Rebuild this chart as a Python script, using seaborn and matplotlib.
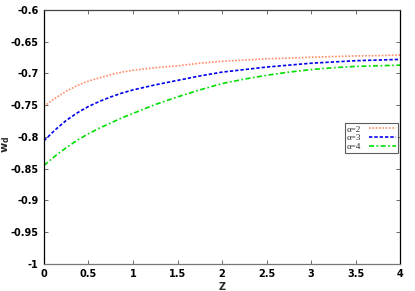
import seaborn as sns
import pandas as pd
import numpy as np
import matplotlib.pyplot as plt

# values
z = [0.0, 0.125, 0.25, 0.375, 0.5, 0.625, 0.75, 0.875, 1.0, 1.25, 1.5, 1.75, 2.0, 2.25,
     2.5, 2.75, 3.0, 3.25, 3.5, 3.75, 4.0]
wd_alpha2 = [-0.752, -0.739, -0.728, -0.719, -0.712, -0.707, -0.702, -0.698, -0.695, -0.691,
             -0.688, -0.684, -0.681, -0.679, -0.677, -0.676, -0.6745, -0.6735, -0.6725, -0.672, -0.671]
wd_alpha3 = [-0.806, -0.789, -0.774, -0.762, -0.752, -0.744, -0.737, -0.731, -0.726, -0.718,
             -0.711, -0.704, -0.698, -0.694, -0.690, -0.687, -0.684, -0.682, -0.680, -0.679, -0.678]
wd_alpha4 = [-0.845, -0.830, -0.817, -0.805, -0.795, -0.786, -0.778, -0.770, -0.763, -0.749,
             -0.737, -0.726, -0.716, -0.709, -0.703, -0.698, -0.694, -0.691, -0.689, -0.688, -0.687]
labels = ['α=2', 'α=3', 'α=4']
colors = ['#ff8c69', '#0000ee', '#00dd00']
styles = [(0, (1, 1)), (0, (2, 1.2)), (0, (3, 1.5, 1, 1.5))]

sns.set_style('ticks')
plt.rcParams['font.family'] = ['DejaVu Sans']

df = pd.DataFrame({'z': z * 3,
                   'wd': wd_alpha2 + wd_alpha3 + wd_alpha4,
                   'alpha': [labels[0]] * len(z) + [labels[1]] * len(z) + [labels[2]] * len(z)})

fig = plt.figure(figsize=(4.15, 2.91), dpi=100)
ax = fig.add_axes([0.106, 0.093, 0.858, 0.873])

for lab, col, ls in zip(labels, colors, styles):
    sub = df[df.alpha == lab]
    sns.lineplot(data=sub, x='z', y='wd', ax=ax, color=col, linewidth=1.2,
                 linestyle=ls, label=lab, estimator=None)

ax.set_xlim(0, 4)
ax.set_ylim(-1, -0.6)
ax.set_xticks(np.arange(0, 4.01, 0.5))
ax.set_xticklabels(['0', '0.5', '1', '1.5', '2', '2.5', '3', '3.5', '4'])
ax.set_yticks(np.arange(-1, -0.599, 0.05))
ax.set_yticklabels(['-1', '-0.95', '-0.9', '-0.85', '-0.8', '-0.75', '-0.7', '-0.65', '-0.6'])
ax.tick_params(direction='in', length=3, width=0.6, labelsize=7, top=True, right=True,
               colors='#555555', labelcolor='black', pad=4)
for lbl in ax.get_xticklabels() + ax.get_yticklabels():
    lbl.set_fontweight('bold')
for side in ['left', 'right', 'top', 'bottom']:
    ax.spines[side].set_visible(True)
    ax.spines[side].set_linewidth(0.9)
ax.spines['top'].set_color('#444444')
ax.spines['bottom'].set_color('#777777')
ax.spines['left'].set_color('black')
ax.spines['right'].set_color('black')

ax.set_xlabel('Z', fontsize=7, fontweight='bold', labelpad=2)
ax.set_ylabel(r'w$_\mathregular{d}$', fontsize=8, fontweight='bold')
ax.yaxis.set_label_coords(-0.09, 0.47)

leg = ax.legend(loc='upper right', bbox_to_anchor=(0.995, 0.553), markerfirst=False,
                frameon=True, fancybox=False, handlelength=3.0, handletextpad=0.9,
                borderpad=0.2, labelspacing=0.05, borderaxespad=0,
                prop={'family': 'Liberation Serif', 'size': 6.5})
leg.get_frame().set_edgecolor('#333333')
leg.get_frame().set_linewidth(0.8)

plt.savefig('out.png', dpi=100)
